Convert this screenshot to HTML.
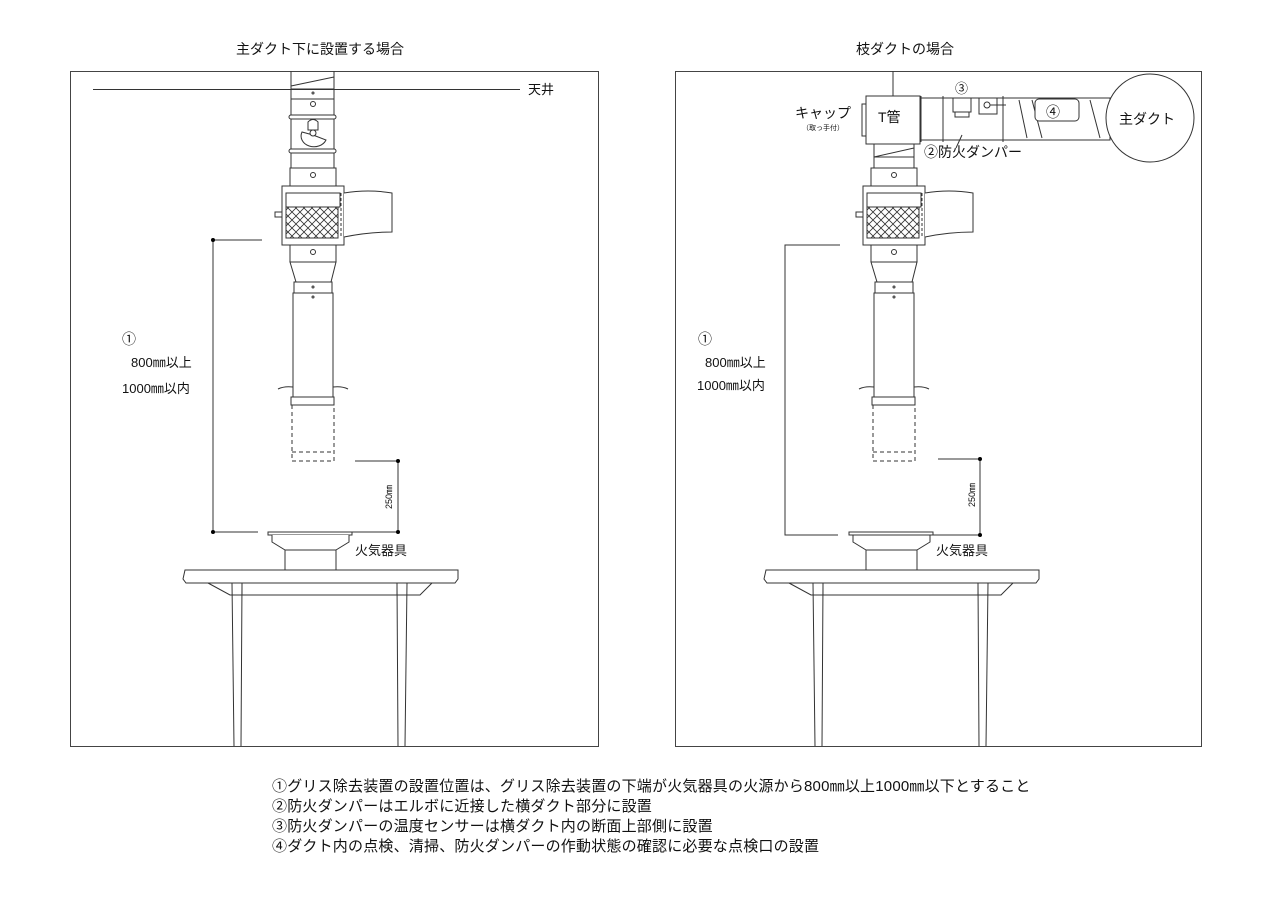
<!DOCTYPE html>
<html><head><meta charset="utf-8"><style>
html,body{margin:0;padding:0;background:#fff;}
svg{display:block;}
text{font-family:"Liberation Sans","Noto Sans CJK JP",sans-serif;fill:#111;}
</style></head><body>
<svg width="1280" height="904" viewBox="0 0 1280 904" xmlns="http://www.w3.org/2000/svg">
<defs>
<pattern id="hatch" width="8" height="8" patternUnits="userSpaceOnUse">
<path d="M0,0L8,8M8,0L0,8" stroke="#333" stroke-width="0.8"/>
</pattern>
<g id="col" fill="#fff" stroke="#333" stroke-width="1">
 <rect x="290" y="168" width="46" height="18"/>
 <circle cx="313" cy="175" r="2.5"/>
 <rect x="282" y="186" width="62" height="59"/>
 <rect x="286" y="193" width="54" height="14"/>
 <rect x="286" y="207" width="52" height="31" fill="url(#hatch)"/>
 <rect x="275" y="212" width="7" height="5"/>
 <line x1="341" y1="193" x2="341" y2="238" stroke-dasharray="3,2"/>
 <path d="M344,193 Q368,189 392,193 L392,232 Q368,232 344,237"/>
 <rect x="290" y="245" width="46" height="17"/>
 <circle cx="313" cy="252" r="2.5"/>
 <path d="M290,262 L336,262 L331,282 L296,282 Z"/>
 <rect x="294" y="282" width="38" height="11"/>
 <circle cx="313" cy="287" r="1"/>
 <rect x="293" y="293" width="40" height="104"/>
 <circle cx="313" cy="297" r="1"/>
 <path d="M278,389 Q284,386 293,387 M333,387 Q342,386 348,389" fill="none"/>
 <rect x="291" y="397" width="43" height="8"/>
 <path d="M292,405 V461 H334 V405 M292,452 H334" fill="none" stroke-dasharray="4,3"/>
 <rect x="268" y="532" width="84" height="3"/>
 <path d="M272,535 L272,542 L285,550 L285,570 L336,570 L336,550 L349,542 L349,535"/>
 <line x1="285" y1="550" x2="336" y2="550"/>
 <path d="M185,570 L458,570 L458,579 L455,583 L186,583 L183,579 Z"/>
 <path d="M208,583 L230,595 L420,595 L432,583" fill="none"/>
 <line x1="242" y1="595" x2="397" y2="595"/>
 <line x1="242" y1="583" x2="242" y2="595"/>
 <line x1="397" y1="583" x2="397" y2="595"/>
 <path d="M232,583 L234,746 M242,583 L241,746 M397,583 L398,746 M407,583 L405,746" fill="none"/>
</g>
</defs>

<text x="320" y="54" font-size="14" text-anchor="middle">主ダクト下に設置する場合</text>
<text x="905" y="54" font-size="14" text-anchor="middle">枝ダクトの場合</text>

<rect x="70.5" y="71.5" width="528" height="675" fill="none" stroke="#444"/>
<rect x="675.5" y="71.5" width="526" height="675" fill="none" stroke="#444"/>

<g fill="#fff" stroke="#333" stroke-width="1">
 <line x1="291" y1="71" x2="291" y2="89"/><line x1="334" y1="71" x2="334" y2="89"/>
 <line x1="291" y1="86" x2="334" y2="77"/>
 <rect x="291" y="89" width="43" height="10"/>
 <circle cx="313" cy="93" r="1"/>
 <rect x="291" y="99" width="43" height="16"/>
 <circle cx="313" cy="104" r="2.5"/>
 <rect x="289" y="115" width="47" height="4" rx="2"/>
 <rect x="291" y="119" width="43" height="30"/>
 <path d="M308,122 Q313,117 318,122 L318,130 L308,130 Z"/>
 <path d="M302,132 A12,10 0 0 0 326,140 L313,135 Z"/>
 <circle cx="313" cy="133" r="3"/>
 <rect x="289" y="149" width="47" height="4" rx="2"/>
 <rect x="291" y="153" width="43" height="15"/>
</g>
<line x1="93" y1="89.5" x2="520" y2="89.5" stroke="#333"/>
<text x="528" y="94" font-size="13">天井</text>
<use href="#col"/>
<g stroke="#333" fill="none">
 <path d="M262,240 H213 V532 H258"/>
 <path d="M270,532 H398 V461 H355"/>
</g>
<circle cx="213" cy="240" r="2" fill="#000"/><circle cx="213" cy="532" r="2" fill="#000"/>
<circle cx="398" cy="461" r="2" fill="#000"/><circle cx="398" cy="532" r="2" fill="#000"/>
<text x="122" y="344" font-size="14">①</text>
<text x="131" y="367" font-size="13">800㎜以上</text>
<text x="122" y="393" font-size="13">1000㎜以内</text>
<text x="392" y="497" font-size="9" transform="rotate(-90 392 497)" text-anchor="middle">250㎜</text>
<text x="355" y="555" font-size="13">火気器具</text>

<g transform="translate(581,0)"><use href="#col"/></g>
<g fill="#fff" stroke="#333" stroke-width="1">
 <line x1="893" y1="71" x2="893" y2="96"/>
 <rect x="920" y="98" width="190" height="42"/>
 <line x1="1032" y1="100" x2="1042" y2="138"/><line x1="1090" y1="100" x2="1100" y2="138"/><line x1="1019" y1="100" x2="1027" y2="138"/>
 <rect x="1035" y="99" width="44" height="22" rx="4"/>
 <line x1="943" y1="96" x2="943" y2="142"/><line x1="1003" y1="96" x2="1003" y2="142"/>
 <line x1="921" y1="96" x2="921" y2="142"/>
 <rect x="953" y="98" width="18" height="14"/><path d="M955,112 H969 V117 H955 Z"/>
 <rect x="979" y="98" width="18" height="16"/><circle cx="987" cy="105" r="3"/><line x1="990" y1="105" x2="1006" y2="105"/>
 <rect x="866" y="96" width="54" height="48"/>
 <rect x="862" y="104" width="4" height="32"/>
 <rect x="874" y="144" width="40" height="13"/>
 <line x1="874" y1="157" x2="914" y2="148"/>
 <rect x="874" y="157" width="40" height="11"/>
 <circle cx="1150" cy="118" r="44"/>
</g>
<line x1="962" y1="135" x2="956" y2="148" stroke="#333"/>
<text x="955" y="93" font-size="13">③</text>
<text x="1046" y="117" font-size="14">④</text>
<text x="1119" y="124" font-size="14">主ダクト</text>
<text x="878" y="122" font-size="14">T管</text>
<text x="795" y="118" font-size="14">キャップ</text>
<text x="802" y="130" font-size="7">（取っ手付）</text>
<text x="924" y="157" font-size="14">②防火ダンパー</text>
<g stroke="#333" fill="none">
 <path d="M840,245 H785 V535 H838"/>
 <path d="M850,535 H980 V459 H938"/>
</g>
<circle cx="980" cy="459" r="2" fill="#000"/><circle cx="980" cy="535" r="2" fill="#000"/>
<text x="698" y="344" font-size="14">①</text>
<text x="705" y="367" font-size="13">800㎜以上</text>
<text x="697" y="390" font-size="13">1000㎜以内</text>
<text x="975" y="495" font-size="9" transform="rotate(-90 975 495)" text-anchor="middle">250㎜</text>
<text x="936" y="555" font-size="13">火気器具</text>

<g font-size="15" letter-spacing="0.2">
<text x="272" y="791">①グリス除去装置の設置位置は、グリス除去装置の下端が火気器具の火源から800㎜以上1000㎜以下とすること</text>
<text x="272" y="811">②防火ダンパーはエルボに近接した横ダクト部分に設置</text>
<text x="272" y="831">③防火ダンパーの温度センサーは横ダクト内の断面上部側に設置</text>
<text x="272" y="851">④ダクト内の点検、清掃、防火ダンパーの作動状態の確認に必要な点検口の設置</text>
</g>
</svg>
</body></html>
